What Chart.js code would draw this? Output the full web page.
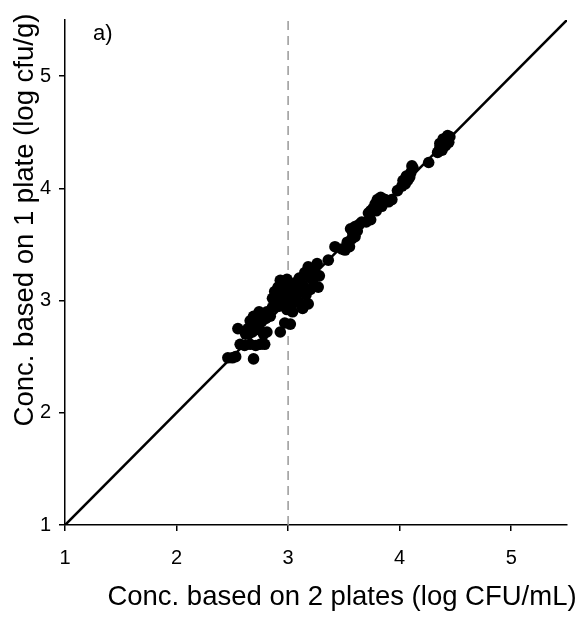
<!DOCTYPE html>
<html>
<head>
<meta charset="utf-8">
<script src="https://cdn.jsdelivr.net/npm/chart.js@4.4.0/dist/chart.umd.min.js"></script>
<style>
  html, body { margin: 0; padding: 0; background: #fff; }
  canvas { display: block; }
</style>
</head>
<body>
<canvas id="c" width="583" height="622"></canvas>
<script>
// ---- data ----
const xTitle = "Conc. based on 2 plates (log CFU/mL)";
const yTitle = "Conc. based on 1 plate (log cfu/g)";
const panelLabel = "a)";
const axisMin = 1;
const axisMax = 5.5;
const tickValues = [1, 2, 3, 4, 5];
const refX = 3;  // dashed reference line

const lowerX = [2.46,2.50,2.53,2.69,2.57,2.61,2.66,2.71,2.75,2.79,2.55,2.62,2.64,2.68,2.71,2.74,2.78,2.81,2.66,2.69,2.72,2.76,2.80,2.74,2.81,2.84,2.93,3.02,2.97];
const lowerY = [2.49,2.49,2.50,2.48,2.61,2.60,2.61,2.60,2.61,2.61,2.75,2.70,2.75,2.72,2.78,2.74,2.70,2.72,2.82,2.86,2.84,2.81,2.84,2.90,2.90,2.86,2.72,2.79,2.80];

const coreX = [2.86,2.88,2.90,2.92,2.94,2.96,2.98,3.00,3.02,3.04,3.04,3.06,3.08,3.10,3.11,3.13,3.13,2.88,2.91,2.93,2.96,2.99,3.01,2.95,2.99,3.03,2.86,2.89,3.07,3.10,3.16,3.18,3.20,3.22,3.18,3.24,3.27,3.18,3.22,3.26,3.28,3.15];
const coreY = [2.94,2.97,3.00,2.95,3.02,2.98,3.05,3.00,3.08,2.90,3.12,3.02,3.06,2.98,3.10,2.93,3.14,3.08,3.12,3.18,3.15,3.19,3.15,3.08,2.92,2.96,3.02,3.04,3.16,3.20,3.05,2.97,3.10,3.18,3.22,3.25,3.12,3.30,3.28,3.33,3.22,3.25];

const midX = [3.36,3.42,3.48,3.51,3.53,3.55,3.57,3.58,3.56,3.60,3.62,3.60,3.64,3.66,3.70,3.74,3.72,3.76,3.78,3.80,3.82,3.84,3.79,3.83,3.86,3.90,3.74,3.87,3.93];
const midY = [3.36,3.48,3.46,3.45,3.52,3.48,3.55,3.60,3.64,3.66,3.62,3.57,3.68,3.70,3.70,3.72,3.78,3.82,3.86,3.90,3.88,3.84,3.80,3.92,3.90,3.88,3.80,3.90,3.90];

const upperX = [3.98,4.02,4.03,4.05,4.07,4.09,4.10,4.12,4.11,4.06,4.26,4.34,4.36,4.38,4.40,4.42,4.43,4.41,4.38,4.44,4.36,4.45,4.39];
const upperY = [3.98,4.02,4.07,4.04,4.07,4.10,4.14,4.18,4.20,4.11,4.23,4.32,4.36,4.40,4.42,4.45,4.47,4.38,4.34,4.41,4.40,4.46,4.44];

const allX = [].concat(lowerX, coreX, midX, upperX);
const allY = [].concat(lowerY, coreY, midY, upperY);
const points = allX.map((x, i) => ({ x: x, y: allY[i] }));

const FONT = '"Liberation Sans", Arial, sans-serif';

const textPlugin = {
  id: 'texts',
  afterDraw(chart) {
    const ctx = chart.ctx;
    ctx.save();
    ctx.fillStyle = '#000';
    ctx.font = '27.5px ' + FONT;
    ctx.textAlign = 'center';
    ctx.textBaseline = 'middle';
    ctx.fillText(xTitle, 342, 597);
    ctx.translate(25, 220);
    ctx.rotate(-Math.PI / 2);
    ctx.fillText(yTitle, 0, 0);
    ctx.restore();
    ctx.save();
    ctx.fillStyle = '#000';
    ctx.font = '22px ' + FONT;
    ctx.textAlign = 'left';
    ctx.textBaseline = 'middle';
    ctx.fillText(panelLabel, 93, 34);
    ctx.restore();
  }
};

const axisCommon = {
  type: 'linear',
  min: axisMin,
  max: axisMax,
  afterBuildTicks(scale) { scale.ticks = tickValues.map(v => ({ value: v })); },
  grid: { drawOnChartArea: false, drawTicks: true, tickLength: 6, color: '#000', lineWidth: 1.5 },
  border: { display: true, color: '#000', width: 1.5 },
  title: { display: false }
};

new Chart(document.getElementById('c'), {
  type: 'scatter',
  data: {
    datasets: [
      {
        label: 'samples',
        data: points,
        backgroundColor: '#000',
        borderColor: '#000',
        pointRadius: 5.8,
        pointBorderWidth: 0,
        order: 0
      },
      {
        label: '1:1',
        data: [{ x: axisMin, y: axisMin }, { x: axisMax, y: axisMax }],
        showLine: true,
        borderColor: '#000',
        borderWidth: 2.6,
        pointRadius: 0,
        order: 1
      },
      {
        label: 'ref',
        data: [{ x: refX, y: axisMin }, { x: refX, y: axisMax }],
        showLine: true,
        borderColor: '#999',
        borderWidth: 1.5,
        borderDash: [9, 6],
        pointRadius: 0,
        order: 2
      }
    ]
  },
  options: {
    responsive: false,
    animation: false,
    layout: { padding: { left: 0, top: 16, right: 16, bottom: 0 } },
    plugins: { legend: { display: false }, tooltip: { enabled: false } },
    scales: {
      x: Object.assign({}, axisCommon, {
        position: 'bottom',
        ticks: { color: '#000', font: { size: 20, family: FONT }, padding: 15, maxRotation: 0 },
        afterFit(scale) { scale.height = 97; }
      }),
      y: Object.assign({}, axisCommon, {
        position: 'left',
        ticks: { color: '#000', font: { size: 20, family: FONT }, padding: 8 },
        afterFit(scale) { scale.width = 65; }
      })
    }
  },
  plugins: [textPlugin]
});
</script>
</body>
</html>
